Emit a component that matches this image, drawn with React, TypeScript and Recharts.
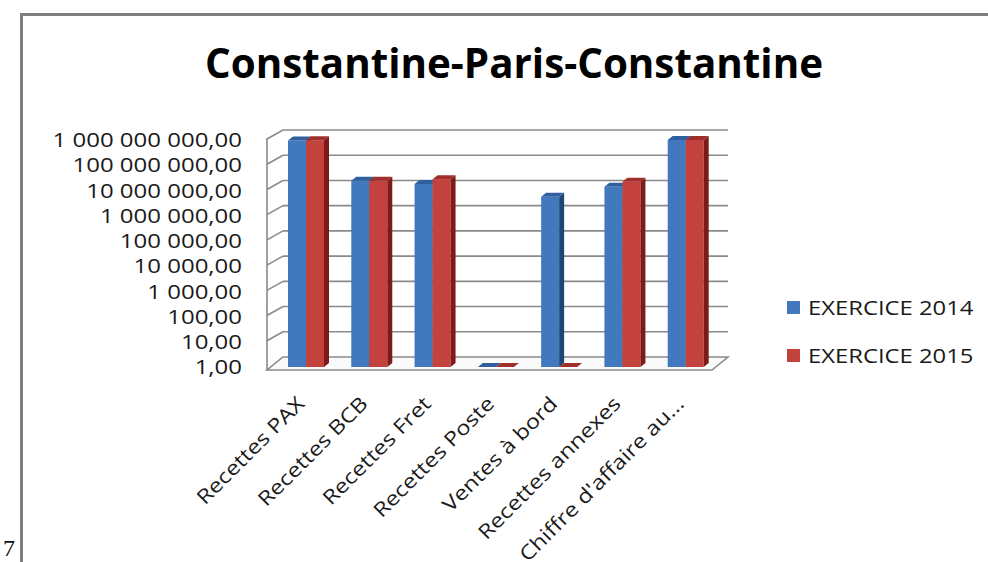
import React from "react"
import {
    BarChart,
    Bar,
    XAxis,
    YAxis,
    CartesianGrid,
    Legend,
} from "recharts"

// categories and the two fiscal years (DZD), log scale
const categories = [
    "Recettes PAX",
    "Recettes BCB",
    "Recettes Fret",
    "Recettes Poste",
    "Ventes à bord",
    "Recettes annexes",
    "Chiffre d'affaire au...",
]

const exercice2014 = [9.6e8, 2.4e7, 1.8e7, 1, 5.6e6, 1.4e7, 1.0e9]
const exercice2015 = [9.8e8, 2.4e7, 2.8e7, 1, 1, 2.2e7, 1.0e9]

const yTicks = [1, 10, 100, 1e3, 1e4, 1e5, 1e6, 1e7, 1e8, 1e9]

const seriesNames = ["EXERCICE 2014", "EXERCICE 2015"]

const data = categories.map((name, i) => ({
    name,
    y2014: exercice2014[i],
    y2015: exercice2015[i],
}))

const FONT = "'Open Sans', sans-serif"

const BLUE = { front: "#4178BE", top: "#2F5F9E", side: "#1F4674" }
const RED = { front: "#C3423E", top: "#A02F2B", side: "#7E1B18" }

// "1 000 000,00"
function formatFr(v: number) {
    const [int, dec] = v.toFixed(2).split(".")
    return int.replace(/\B(?=(\d{3})+(?!\d))/g, " ") + "," + dec
}

// bar with a top face and a right side face
function makeBar3D(c: { front: string; top: string; side: string }) {
    return (props: any) => {
        const { x, y, width, height } = props
        const dx = 5
        const dy = 4
        const h = Math.max(height || 0, 0)
        return (
            <g>
                {h > 0 && (
                    <rect x={x} y={y} width={width} height={h} fill={c.front} />
                )}
                {h > 0 && (
                    <polygon
                        points={`${x + width},${y} ${x + width + dx},${y - dy} ${x + width + dx},${y + h - dy} ${x + width},${y + h}`}
                        fill={c.side}
                    />
                )}
                <polygon
                    points={`${x},${y} ${x + dx},${y - dy} ${x + width + dx},${y - dy} ${x + width},${y}`}
                    fill={c.top}
                />
            </g>
        )
    }
}

// back wall gridlines, left wall ticks and the floor
function WallLine(props: any) {
    const { x1, y1, x2, y, height } = props
    const stroke = "#8a8a8a"
    const isFloor = height != null && Math.abs(y1 - (y + height)) < 1
    if (isFloor) {
        return (
            <g>
                <polygon
                    points={`${x1 - 7},${y1 + 3} ${x2 - 5},${y1 + 3} ${x2 + 11},${y1 - 10} ${x1 + 9},${y1 - 10}`}
                    fill="#fafafa"
                    stroke={stroke}
                    strokeWidth={1.6}
                />
                <line
                    x1={x1 - 7}
                    y1={y1 + 3}
                    x2={x1 - 7}
                    y2={y - 2}
                    stroke={stroke}
                    strokeWidth={1.6}
                />
            </g>
        )
    }
    return (
        <g>
            <line
                x1={x1 - 7}
                y1={y1 - 1}
                x2={x1 + 9}
                y2={y1 - 10}
                stroke={stroke}
                strokeWidth={1.6}
            />
            <line
                x1={x1 + 9}
                y1={y1 - 10}
                x2={x2 + 11}
                y2={y1 - 10}
                stroke={stroke}
                strokeWidth={1.6}
            />
        </g>
    )
}

function YTick({ x, y, payload }: any) {
    return (
        <text
            transform={`translate(${x - 24},${y}) scale(1.2,1)`}
            textAnchor="end"
            dy="0.36em"
            fontSize={20}
            fontFamily={FONT}
            fill="#1a1a1a"
        >
            {formatFr(payload.value)}
        </text>
    )
}

function XTick({ x, y, payload }: any) {
    return (
        <text
            transform={`translate(${x},${y + 30}) rotate(-45) scale(1.18,1)`}
            textAnchor="end"
            fontSize={20}
            fontFamily={FONT}
            fill="#1a1a1a"
        >
            {payload.value}
        </text>
    )
}

function LegendBox({ payload }: any) {
    return (
        <div style={{ fontFamily: FONT, fontSize: 20, color: "#1a1a1a" }}>
            {(payload || []).map((p: any) => (
                <div
                    key={p.value}
                    style={{
                        display: "flex",
                        alignItems: "center",
                        height: 48,
                    }}
                >
                    <span
                        style={{
                            width: 13,
                            height: 13,
                            background: p.color,
                            marginRight: 8,
                        }}
                    />
                    <span
                        style={{
                            display: "inline-block",
                            transform: "scaleX(1.19)",
                            transformOrigin: "left center",
                            whiteSpace: "nowrap",
                        }}
                    >
                        {p.value}
                    </span>
                </div>
            ))}
        </div>
    )
}

export default function App() {
    return (
        <div
            style={{
                position: "fixed",
                left: 0,
                top: 0,
                width: 988,
                height: 562,
                background: "#fff",
            }}
        >
            {/* page frame, title and page number */}
            <svg
                width={988}
                height={562}
                style={{ position: "absolute", left: 0, top: 0 }}
            >
                <line x1={20} y1={14.5} x2={988} y2={14.5} stroke="#7f7f7f" strokeWidth={3} />
                <line x1={21.5} y1={13} x2={21.5} y2={562} stroke="#7f7f7f" strokeWidth={3} />
                <text
                    x={205}
                    y={78}
                    fontFamily={FONT}
                    fontWeight={700}
                    fontSize={42}
                    textLength={618}
                    lengthAdjust="spacingAndGlyphs"
                    fill="#000"
                >
                    Constantine-Paris-Constantine
                </text>
                <text
                    x={3}
                    y={556}
                    fontFamily="'Liberation Serif', serif"
                    fontSize={24}
                    fill="#111"
                >
                    7
                </text>
            </svg>
            <div style={{ position: "absolute", left: 0, top: 0 }}>
                <BarChart
                    width={988}
                    height={562}
                    data={data}
                    margin={{ top: 140, right: 271, bottom: 135, left: 214 }}
                    barSize={18}
                    barGap={0}
                >
                    <CartesianGrid
                        vertical={false}
                        horizontal={(p: any) => <WallLine key={p.key} {...p} />}
                    />
                    <XAxis
                        dataKey="name"
                        axisLine={false}
                        tickLine={false}
                        height={60}
                        interval={0}
                        tick={<XTick />}
                    />
                    <YAxis
                        scale="log"
                        domain={[1, 1e9]}
                        ticks={yTicks}
                        width={60}
                        axisLine={false}
                        tickLine={false}
                        tick={<YTick />}
                    />
                    <Legend
                        layout="vertical"
                        align="center"
                        verticalAlign="middle"
                        content={<LegendBox />}
                        wrapperStyle={{ left: 787, top: 283, width: 190 }}
                    />
                    <Bar
                        dataKey="y2014"
                        name={seriesNames[0]}
                        fill={BLUE.front}
                        shape={makeBar3D(BLUE)}
                        isAnimationActive={false}
                    />
                    <Bar
                        dataKey="y2015"
                        name={seriesNames[1]}
                        fill={RED.front}
                        shape={makeBar3D(RED)}
                        isAnimationActive={false}
                    />
                </BarChart>
            </div>
            {/* blank right margin of the page */}
            <div
                style={{
                    position: "absolute",
                    left: 979,
                    top: 16,
                    width: 9,
                    height: 546,
                    background: "#fff",
                }}
            />
        </div>
    )
}
